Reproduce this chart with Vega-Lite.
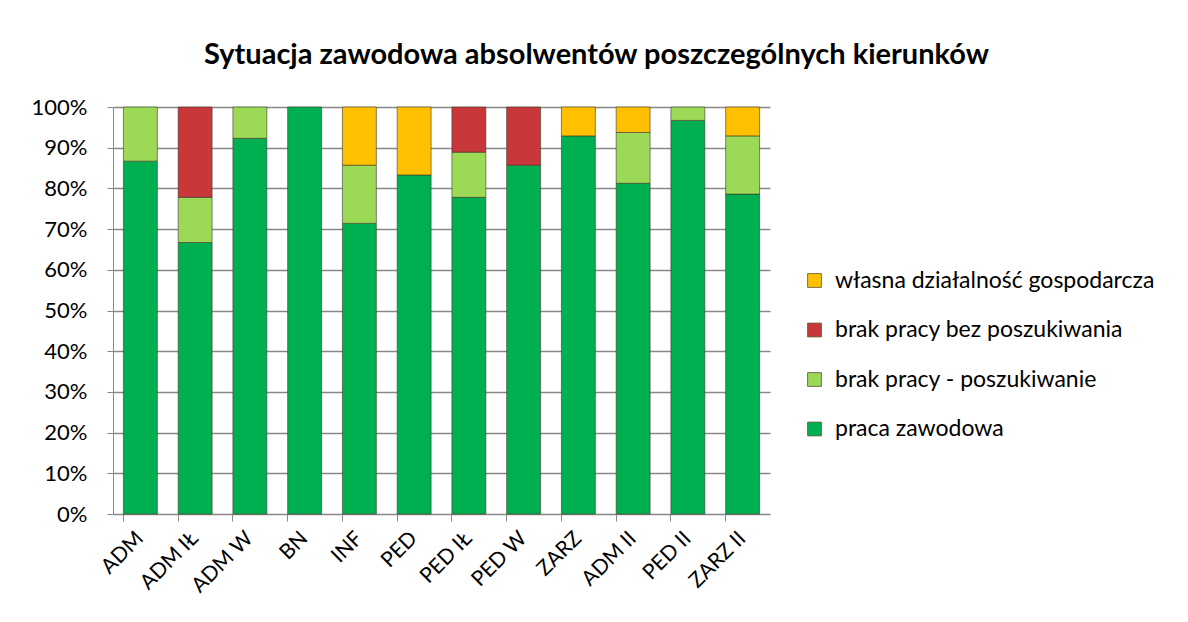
{
  "$schema": "https://vega.github.io/schema/vega-lite/v6.json",
  "autosize": "none",
  "width": 657,
  "height": 407,
  "padding": {"left": 113, "top": 107, "right": 418, "bottom": 108},
  "background": "white",
  "title": {
    "text": "Sytuacja zawodowa absolwentów poszczególnych kierunków",
    "font": "Lato",
    "fontSize": 29,
    "fontWeight": "bold",
    "color": "#000000",
    "anchor": "middle",
    "frame": "group",
    "dx": 155,
    "offset": 26
  },
  "data": {
    "values": [
      {"kierunek": "ADM", "kategoria": "praca zawodowa", "ord": 1, "v": 86.7},
      {"kierunek": "ADM", "kategoria": "brak pracy - poszukiwanie", "ord": 2, "v": 13.3},
      {"kierunek": "ADM IŁ", "kategoria": "praca zawodowa", "ord": 1, "v": 66.7},
      {"kierunek": "ADM IŁ", "kategoria": "brak pracy - poszukiwanie", "ord": 2, "v": 11.1},
      {"kierunek": "ADM IŁ", "kategoria": "brak pracy bez poszukiwania", "ord": 3, "v": 22.2},
      {"kierunek": "ADM W", "kategoria": "praca zawodowa", "ord": 1, "v": 92.3},
      {"kierunek": "ADM W", "kategoria": "brak pracy - poszukiwanie", "ord": 2, "v": 7.7},
      {"kierunek": "BN", "kategoria": "praca zawodowa", "ord": 1, "v": 100},
      {"kierunek": "INF", "kategoria": "praca zawodowa", "ord": 1, "v": 71.4},
      {"kierunek": "INF", "kategoria": "brak pracy - poszukiwanie", "ord": 2, "v": 14.3},
      {"kierunek": "INF", "kategoria": "własna działalność gospodarcza", "ord": 4, "v": 14.3},
      {"kierunek": "PED", "kategoria": "praca zawodowa", "ord": 1, "v": 83.3},
      {"kierunek": "PED", "kategoria": "własna działalność gospodarcza", "ord": 4, "v": 16.7},
      {"kierunek": "PED IŁ", "kategoria": "praca zawodowa", "ord": 1, "v": 77.8},
      {"kierunek": "PED IŁ", "kategoria": "brak pracy - poszukiwanie", "ord": 2, "v": 11.1},
      {"kierunek": "PED IŁ", "kategoria": "brak pracy bez poszukiwania", "ord": 3, "v": 11.1},
      {"kierunek": "PED W", "kategoria": "praca zawodowa", "ord": 1, "v": 85.7},
      {"kierunek": "PED W", "kategoria": "brak pracy bez poszukiwania", "ord": 3, "v": 14.3},
      {"kierunek": "ZARZ", "kategoria": "praca zawodowa", "ord": 1, "v": 92.9},
      {"kierunek": "ZARZ", "kategoria": "własna działalność gospodarcza", "ord": 4, "v": 7.1},
      {"kierunek": "ADM II", "kategoria": "praca zawodowa", "ord": 1, "v": 81.25},
      {"kierunek": "ADM II", "kategoria": "brak pracy - poszukiwanie", "ord": 2, "v": 12.5},
      {"kierunek": "ADM II", "kategoria": "własna działalność gospodarcza", "ord": 4, "v": 6.25},
      {"kierunek": "PED II", "kategoria": "praca zawodowa", "ord": 1, "v": 96.7},
      {"kierunek": "PED II", "kategoria": "brak pracy - poszukiwanie", "ord": 2, "v": 3.3},
      {"kierunek": "ZARZ II", "kategoria": "praca zawodowa", "ord": 1, "v": 78.6},
      {"kierunek": "ZARZ II", "kategoria": "brak pracy - poszukiwanie", "ord": 2, "v": 14.3},
      {"kierunek": "ZARZ II", "kategoria": "własna działalność gospodarcza", "ord": 4, "v": 7.1}
    ]
  },
  "mark": {"type": "bar", "stroke": "#3a3a2a", "strokeWidth": 1, "strokeOpacity": 0.6},
  "encoding": {
    "x": {
      "field": "kierunek",
      "type": "nominal",
      "sort": ["ADM", "ADM IŁ", "ADM W", "BN", "INF", "PED", "PED IŁ", "PED W", "ZARZ", "ADM II", "PED II", "ZARZ II"],
      "scale": {"paddingInner": 0.38, "paddingOuter": 0.19},
      "title": null,
      "axis": {
        "labelAngle": -45,
        "labelAlign": "right",
        "labelBaseline": "middle",
        "labelFont": "Lato",
        "labelFontSize": 21,
        "labelColor": "#000000",
        "labelPadding": 14,
        "bandPosition": 0,
        "tickColor": "#888888",
        "tickSize": 7,
        "domainColor": "#888888",
        "grid": false
      }
    },
    "y": {
      "field": "v",
      "type": "quantitative",
      "stack": "normalize",
      "scale": {"domain": [0, 1]},
      "title": null,
      "axis": {
        "format": ".0%",
        "values": [0, 0.1, 0.2, 0.3, 0.4, 0.5, 0.6, 0.7, 0.8, 0.9, 1.0],
        "labelFont": "Lato",
        "labelFontSize": 22,
        "labelColor": "#000000",
        "labelPadding": 20,
        "tickColor": "#888888",
        "tickSize": 6,
        "domainColor": "#888888",
        "gridColor": "#888888",
        "gridWidth": 1.5
      }
    },
    "color": {
      "field": "kategoria",
      "type": "nominal",
      "scale": {
        "domain": ["własna działalność gospodarcza", "brak pracy bez poszukiwania", "brak pracy - poszukiwanie", "praca zawodowa"],
        "range": ["#FFC000", "#C8373A", "#9BD957", "#00B050"]
      },
      "legend": {
        "title": null,
        "orient": "none",
        "legendX": 690,
        "legendY": 162,
        "symbolType": "square",
        "symbolSize": 190,
        "symbolStrokeColor": "#555533",
        "symbolStrokeWidth": 0.8,
        "labelFont": "Lato",
        "labelFontSize": 23,
        "labelColor": "#000000",
        "labelLimit": 450,
        "rowPadding": 25.5,
        "labelOffset": 9
      }
    },
    "order": {"field": "ord", "type": "quantitative"}
  },
  "config": {"view": {"stroke": null}}
}
